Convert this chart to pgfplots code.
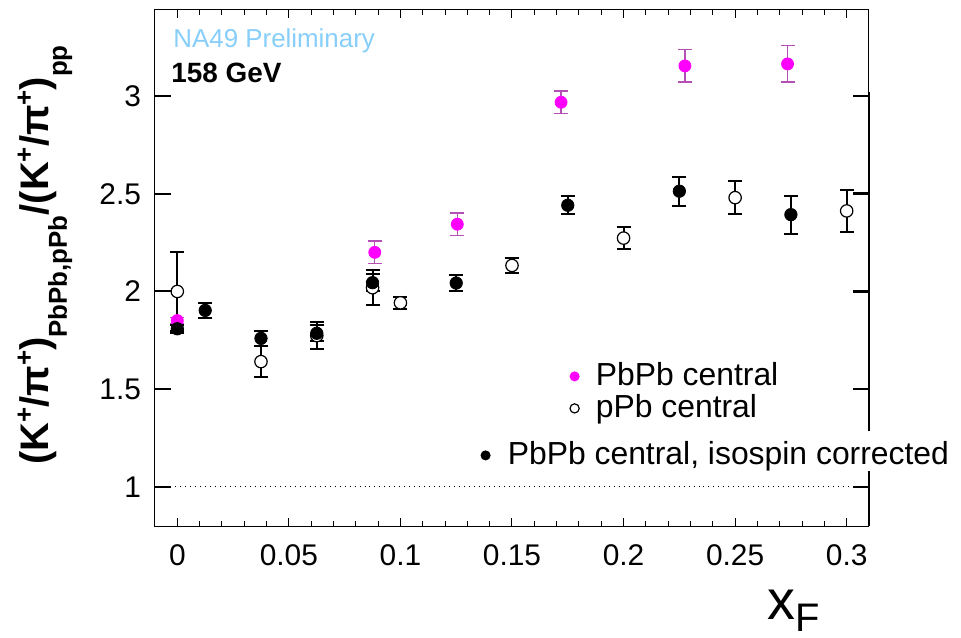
\documentclass[border=0pt]{standalone}
\usepackage{fontspec}
\setmainfont{Liberation Sans}
\usepackage{pgfplots}
\pgfplotsset{compat=1.18}
\definecolor{mag}{RGB}{255,0,255}
\definecolor{magerr}{RGB}{180,80,180}
\definecolor{prelim}{RGB}{135,206,250}
\newcommand\upp[1]{\raisebox{8bp}{\fontsize{13}{13}\selectfont #1}}
\newcommand\dwn[1]{\raisebox{-9bp}{\fontsize{13}{13}\selectfont #1}}
\pgfplotsset{
  mylegendA/.style={legend image code/.code={%
    \draw[##1, mark size=2.3bp] plot coordinates {(0bp,1.5bp)};}},
  mylegendB/.style={legend image code/.code={%
    \draw[##1, mark size=2.3bp] plot coordinates {(0bp,-2bp)};}},
}
\begin{document}
\begin{tikzpicture}
\path[use as bounding box] (-77.5bp,-56bp) rectangle (403bp,263bp);
\begin{axis}[
  at={(0,0)}, anchor=south west,
  scale only axis, width=357bp, height=258bp,
  xmin=-0.01, xmax=0.31, ymin=0.8, ymax=3.44,
  xtick={0,0.05,0.1,0.15,0.2,0.25,0.3},
  xticklabels={0,0.05,0.1,0.15,0.2,0.25,0.3},
  minor x tick num=4,
  ytick={1,1.5,2,2.5,3},
  yticklabels={1,1.5,2,2.5,3},
  tick align=inside,
  major tick length=4bp, minor tick length=2.5bp,
  ytick style={draw=none},
  ticklabel style={font=\fontsize{15}{17}\selectfont},
  xticklabel style={yshift=-6bp},
  yticklabel style={xshift=-3.5bp},
  axis line style={line width=0.5bp},
  tick style={line width=0.5bp, black},
  clip=false,
  legend cell align=left,
  legend style={draw=none, fill=none, inner sep=0pt,
    font=\fontsize{16}{18}\selectfont,
    at={(rel axis cs:0.5807,0.3159)}, anchor=north west,
    row sep=0pt,
    nodes={inner sep=0pt, text height=11bp, text depth=5bp},
    /tikz/every odd column/.append style={column sep=8.3bp}},
]
% reference line
\addplot[dotted, line width=0.5bp, forget plot] coordinates {(-0.001,1) (0.302,1)};
% right thick axis and y ticks
\draw[line width=1.3bp] (axis cs:0.31,0.8) -- (axis cs:0.31,3.02);
\pgfplotsinvokeforeach{1,1.5,2,2.5,3}{
  \draw[line width=1bp] (axis cs:-0.01,#1) -- ([xshift=8bp]axis cs:-0.01,#1);
  \draw[line width=1.3bp] (axis cs:0.31,#1) -- ([xshift=-8bp]axis cs:0.31,#1);
}
% PbPb central
\addplot[only marks, mark=*, mark size=3bp, color=mag, mylegendA,
  error bars/.cd, y dir=both, y explicit,
  error bar style={color=magerr, line width=0.7bp},
  error mark options={rotate=90, color=magerr, line width=0.7bp, mark size=3.5bp}]
  table[x=x, y=y, y error=e] {
x y e
0 1.851 0.015
0.0885 2.200 0.058
0.1255 2.344 0.058
0.172 2.968 0.058
0.2275 3.154 0.083
0.2735 3.164 0.093
};
\addlegendentry{PbPb central}
% pPb central
\addplot[only marks, mark=*, mark size=3.1bp, color=black,
  mark options={fill=white, draw=black, line width=0.6bp}, mylegendA,
  error bars/.cd, y dir=both, y explicit,
  error bar style={color=black, line width=1bp},
  error mark options={rotate=90, color=black, line width=1bp, mark size=3.5bp}]
  table[x=x, y=y, y error=e] {
x y e
0 2.000 0.200
0.0375 1.641 0.080
0.0625 1.774 0.070
0.0875 2.019 0.090
0.1 1.942 0.030
0.15 2.133 0.038
0.2 2.273 0.057
0.25 2.480 0.084
0.3 2.412 0.107
};
\addlegendentry{pPb central}
% PbPb central, isospin corrected
\addplot[only marks, mark=*, mark size=3.1bp, color=black,
  error bars/.cd, y dir=both, y explicit,
  error bar style={color=black, line width=1bp},
  error mark options={rotate=90, color=black, line width=1bp, mark size=3.5bp}]
  table[x=x, y=y, y error=e] {
x y e
0 1.809 0.020
0.0125 1.903 0.040
0.0375 1.760 0.037
0.0625 1.786 0.040
0.0875 2.045 0.045
0.125 2.043 0.043
0.175 2.441 0.047
0.225 2.513 0.075
0.275 2.393 0.097
};
% texts
\node[anchor=base west, inner sep=0pt, text=prelim, font=\fontsize{13}{15}\selectfont]
  at ([xshift=9bp, yshift=-19bp]rel axis cs:0,1) {NA49 Preliminary};
\node[anchor=base west, inner sep=0pt, font=\fontsize{14}{16}\selectfont\bfseries]
  at ([xshift=8bp, yshift=-36.5bp]rel axis cs:0,1) {158 GeV};
\node[anchor=base east, inner sep=0pt]
  at ([xshift=-24.5bp, yshift=-46.5bp]rel axis cs:1,0)
  {\fontsize{28}{30}\selectfont x\raisebox{-6bp}{\fontsize{20}{22}\selectfont F}};
\node[rotate=90, anchor=center, inner sep=0pt, font=\fontsize{20}{22}\selectfont\bfseries]
  at ([xshift=-55bp, yshift=135.5bp]rel axis cs:0,0)
  {(K\upp{+}/π\upp{+})\dwn{PbPb,pPb}/(K\upp{+}/π\upp{+})\dwn{pp}};
\end{axis}
\begin{axis}[
  at={(0,0)}, anchor=south west,
  scale only axis, width=357bp, height=258bp,
  xmin=-0.01, xmax=0.31, ymin=0.8, ymax=3.44,
  hide axis,
  legend cell align=left,
  legend style={draw=none, fill=white, inner sep=0pt,
    font=\fontsize{16}{18}\selectfont,
    at={(rel axis cs:0.456,0.1841)}, anchor=north west,
    row sep=0pt,
    nodes={inner sep=0pt, text height=16.5bp, text depth=3.5bp},
    /tikz/every odd column/.append style={column sep=8.8bp}},
]
\addlegendimage{only marks, mark=*, black, mark size=2.3bp, mylegendB}
\addlegendentry{PbPb central, isospin corrected}
\end{axis}
\end{tikzpicture}
\end{document}
